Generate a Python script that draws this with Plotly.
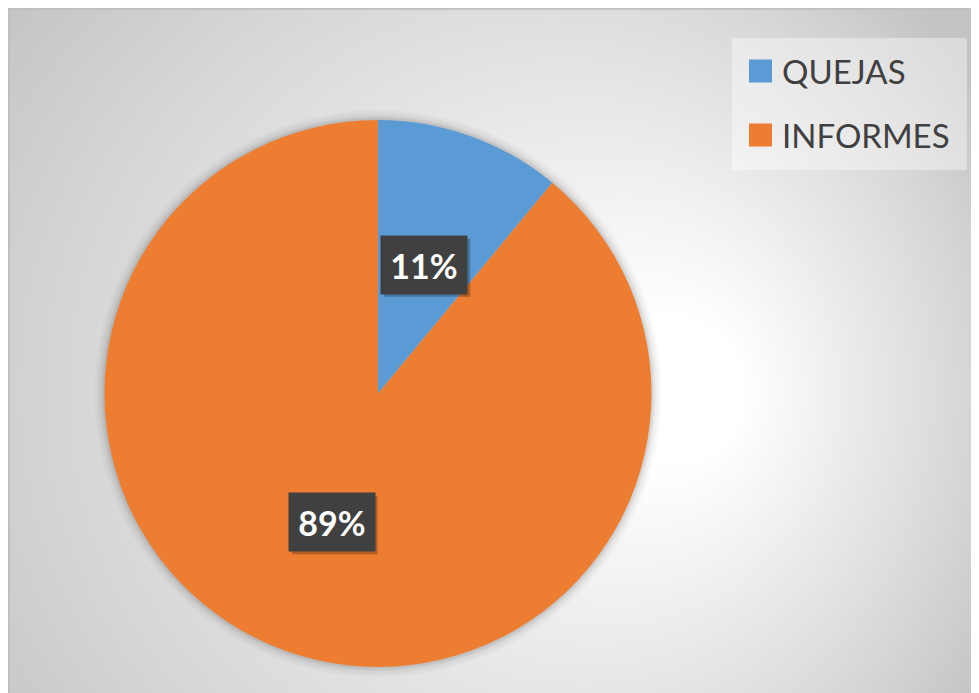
import base64
import math

import plotly.graph_objects as go

# datos
labels = ["QUEJAS", "INFORMES"]
values = [11, 89]
colors = ["#5B9BD5", "#ED7D31"]

# the page body has an 8px margin, so the figure is a bit smaller than the window
OFF = 8
W, H = 979 - OFF, 693 - OFF

# pie placement (window pixels)
pie_left, pie_right, pie_top, pie_bottom = 104, 652, 120, 667
cx_px = (pie_left + pie_right) / 2
cy_px = (pie_top + pie_bottom) / 2
radius_px = min(pie_right - pie_left, pie_bottom - pie_top) / 2


def px_to_paper(x, y):
    return (x - OFF) / W, 1 - (y - OFF) / H


dx0, dy1 = px_to_paper(pie_left, pie_top)
dx1, dy0 = px_to_paper(pie_right, pie_bottom)

# radial gradient background as inline svg (covers whole figure)
svg = f"""<svg xmlns='http://www.w3.org/2000/svg' width='{W}' height='{H}' viewBox='0 0 {W} {H}'>
<defs><radialGradient id='g' gradientUnits='userSpaceOnUse' cx='450' cy='383' r='600' fx='692' fy='383'>
<stop offset='0' stop-color='#ffffff'/>
<stop offset='0.12' stop-color='#ffffff'/>
<stop offset='0.75' stop-color='#d6d6d6'/>
<stop offset='1' stop-color='#c4c4c4'/>
</radialGradient></defs>
<rect width='{W}' height='{H}' fill='url(#g)'/></svg>"""
bg_src = "data:image/svg+xml;base64," + base64.b64encode(svg.encode()).decode()

fig = go.Figure()
fig.add_trace(
    go.Pie(
        labels=labels,
        values=values,
        marker=dict(colors=colors, line=dict(width=0)),
        sort=False,
        direction="clockwise",
        rotation=0,
        textinfo="none",
        hoverinfo="label+percent",
        domain=dict(x=[dx0, dx1], y=[dy0, dy1]),
        showlegend=False,
    )
)

shapes = []
# soft shadow around the pie
for k, a in [(10, 0.025), (7, 0.035), (4, 0.05), (2, 0.06)]:
    x0, y0 = px_to_paper(cx_px - radius_px - k, cy_px - radius_px - k)
    x1, y1 = px_to_paper(cx_px + radius_px + k, cy_px + radius_px + k)
    shapes.append(dict(type="circle", xref="paper", yref="paper", x0=x0, y0=y1, x1=x1, y1=y0,
                       fillcolor=f"rgba(0,0,0,{a})", line=dict(width=0), layer="below"))

# chart frame
shapes.append(dict(type="rect", xref="paper", yref="paper", x0=0.001, y0=-0.01, x1=1.01, y1=0.999,
                   line=dict(color="#bfbfbf", width=2), fillcolor="rgba(0,0,0,0)", layer="above"))

# legend box
lx0, ly0 = px_to_paper(732, 38)
lx1, ly1 = px_to_paper(967, 170)
shapes.append(dict(type="rect", xref="paper", yref="paper", x0=lx0, y0=ly1, x1=lx1, y1=ly0,
                   fillcolor="rgba(255,255,255,0.4)", line=dict(width=0), layer="below"))

annotations = []
# legend entries
legend_rows = [71, 135]
for name, col, yc in zip(labels, colors, legend_rows):
    sx0, sy0 = px_to_paper(749, yc - 11.5)
    sx1, sy1 = px_to_paper(772, yc + 11.5)
    shapes.append(dict(type="rect", xref="paper", yref="paper", x0=sx0, y0=sy1, x1=sx1, y1=sy0,
                       fillcolor=col, line=dict(width=0)))
    tx, ty = px_to_paper(780, yc)
    annotations.append(dict(x=tx, y=ty, xref="paper", yref="paper", text=name, showarrow=False,
                            xanchor="left", yanchor="middle",
                            font=dict(family="Lato", size=33, color="#404040")))

# percentage labels at half radius of each slice
box_w, box_h = 86, 58
total = sum(values)
cum = 0
for v in values:
    mid = (cum + v / 2) / total * 2 * math.pi
    cum += v
    lx = cx_px + 0.5 * radius_px * math.sin(mid)
    ly = cy_px - 0.5 * radius_px * math.cos(mid)
    # drop shadow of the label box
    bx0, by0 = px_to_paper(lx - box_w / 2 + 3, ly - box_h / 2 + 3)
    bx1, by1 = px_to_paper(lx + box_w / 2 + 3, ly + box_h / 2 + 3)
    shapes.append(dict(type="rect", xref="paper", yref="paper", x0=bx0, y0=by1, x1=bx1, y1=by0,
                       fillcolor="rgba(0,0,0,0.25)", line=dict(width=0)))
    px, py = px_to_paper(lx, ly)
    txt = f"{round(100 * v / total)}%"
    annotations.append(dict(x=px, y=py, xref="paper", yref="paper", text=f"<b>{txt}</b>",
                            showarrow=False, bgcolor="#404040", borderpad=0,
                            xanchor="center", yanchor="middle",
                            width=box_w, height=box_h, align="center", valign="middle",
                            font=dict(family="Lato", size=34, color="white")))

fig.update_layout(
    width=W,
    height=H,
    margin=dict(l=0, r=0, t=0, b=0),
    paper_bgcolor="white",
    plot_bgcolor="white",
    images=[dict(source=bg_src, xref="paper", yref="paper", x=0, y=1,
                 sizex=1, sizey=1, sizing="stretch", layer="below",
                 xanchor="left", yanchor="top")],
    shapes=shapes,
    annotations=annotations,
)

fig.write_html("out.html")
